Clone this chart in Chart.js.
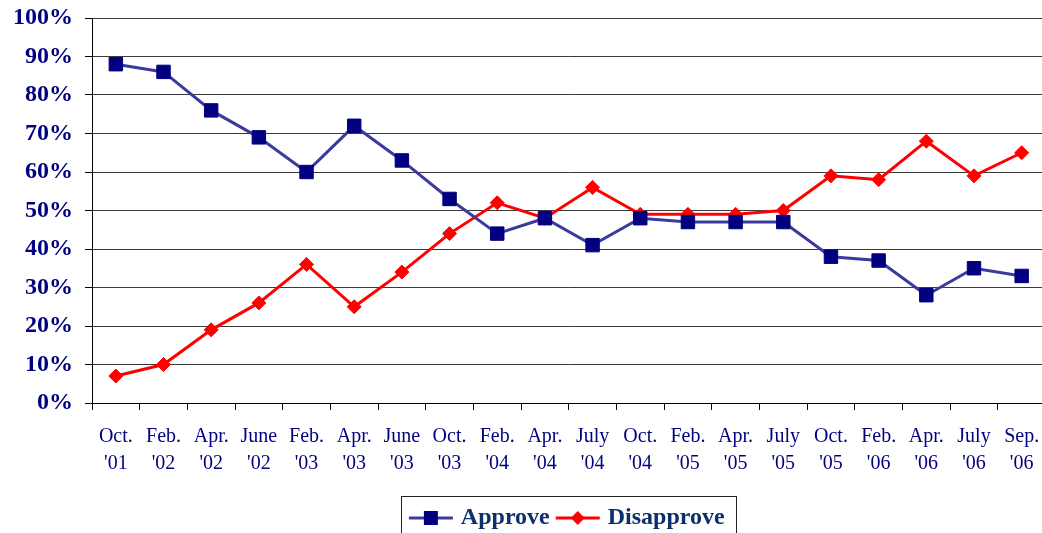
<!DOCTYPE html>
<html>
<head>
<meta charset="utf-8">
<script src="https://cdn.jsdelivr.net/npm/chart.js@4.4.0/dist/chart.umd.min.js"></script>
<style>
  html, body { margin: 0; padding: 0; background: #fff; overflow: hidden; }
  #wrap { width: 1056px; height: 540px; }
</style>
</head>
<body>
<div id="wrap"><canvas id="c" width="1056" height="540"></canvas></div>
<script>
const months = ["Oct.","Feb.","Apr.","June","Feb.","Apr.","June","Oct.","Feb.","Apr.","July","Oct.","Feb.","Apr.","July","Oct.","Feb.","Apr.","July","Sep."];
const years  = ["'01","'02","'02","'02","'03","'03","'03","'03","'04","'04","'04","'04","'05","'05","'05","'05","'06","'06","'06","'06"];
const approve    = [88, 86, 76, 69, 60, 72, 63, 53, 44, 48, 41, 48, 47, 47, 47, 38, 37, 28, 35, 33];
const disapprove = [7, 10, 19, 26, 36, 25, 34, 44, 52, 48, 56, 49, 49, 49, 50, 59, 58, 68, 59, 65];
const yTicks = [0, 10, 20, 30, 40, 50, 60, 70, 80, 90, 100];

const labels = months.map((m, i) => [m, years[i]]);

function legendImage(lineColor, markColor, shape) {
  const cv = document.createElement('canvas');
  cv.width = 46; cv.height = 18;
  const g = cv.getContext('2d');
  g.strokeStyle = lineColor; g.lineWidth = 3;
  g.beginPath(); g.moveTo(1, 9); g.lineTo(45, 9); g.stroke();
  g.fillStyle = markColor;
  if (shape === 'square') { g.fillRect(16, 2, 14, 14); }
  else { g.beginPath(); g.moveTo(23, 2); g.lineTo(30, 9); g.lineTo(23, 16); g.lineTo(16, 9); g.closePath(); g.fill(); }
  return cv;
}
const imgApprove = legendImage('#3b3b9c', '#000080', 'square');
const imgDisapprove = legendImage('#ff0000', '#ff0000', 'diamond');

const legendBorder = {
  id: 'legendBorder',
  afterDraw(chart) {
    const lg = chart.legend;
    if (!lg || !lg.legendHitBoxes || !lg.legendHitBoxes.length) return;
    const hb = lg.legendHitBoxes;
    const x0 = Math.min(...hb.map(b => b.left)) - 12;
    const x1 = Math.max(...hb.map(b => b.left + b.width)) + 11;
    const ctx = chart.ctx;
    ctx.save();
    ctx.strokeStyle = '#222';
    ctx.lineWidth = 1;
    ctx.strokeRect(Math.round(x0) + 0.5, Math.round(lg.top) + 0.5, Math.round(x1 - x0), lg.height + 20);
    ctx.restore();
  }
};

new Chart(document.getElementById('c'), {
  type: 'line',
  data: {
    labels: labels,
    datasets: [
      {
        label: 'Approve', data: approve,
        borderColor: '#3b3b9c', borderWidth: 3,
        pointStyle: 'rect', pointRadius: 9.5, pointBackgroundColor: '#000080', pointBorderColor: '#000080', pointBorderWidth: 1,
        tension: 0
      },
      {
        label: 'Disapprove', data: disapprove,
        borderColor: '#ff0000', borderWidth: 3,
        pointStyle: 'rectRot', pointRadius: 7, pointBackgroundColor: '#ff0000', pointBorderColor: '#ff0000', pointBorderWidth: 1,
        tension: 0
      }
    ]
  },
  options: {
    responsive: false,
    animation: false,
    layout: { padding: { top: 18, right: 2, left: 0, bottom: 0 } },
    plugins: {
      tooltip: { enabled: false },
      legend: {
        position: 'bottom',
        fullSize: false,
        labels: {
          usePointStyle: true,
          pointStyleWidth: 36,
          boxHeight: 18,
          padding: 10,
          color: '#0d2f6b',
          font: { family: 'Liberation Serif', size: 24, weight: 'bold' },
          generateLabels(chart) {
            return [
              { text: 'Approve', pointStyle: imgApprove, fillStyle: '#000080', strokeStyle: '#000080', lineWidth: 0, datasetIndex: 0, fontColor: '#0d2f6b' },
              { text: 'Disapprove', pointStyle: imgDisapprove, fillStyle: '#ff0000', strokeStyle: '#ff0000', lineWidth: 0, datasetIndex: 1, fontColor: '#0d2f6b' }
            ];
          }
        }
      }
    },
    scales: {
      x: {
        offset: true,
        afterFit(scale) { scale.height = 93; scale.paddingLeft = 0; scale.paddingRight = 0; },
        grid: { offset: true, drawOnChartArea: false, tickLength: 7, color: '#000', tickColor: '#000' },
        border: { color: '#000', width: 1 },
        ticks: {
          autoSkip: false, maxRotation: 0, padding: 13,
          color: '#000080',
          font: { family: 'Liberation Serif', size: 20, lineHeight: 1.35 }
        }
      },
      y: {
        min: 0, max: 100,
        afterFit(scale) { scale.width = 92; scale.paddingTop = 0; scale.paddingBottom = 0; },
        afterBuildTicks(scale) { scale.ticks = yTicks.map(v => ({ value: v })); },
        grid: { color: '#3a3a3a', tickLength: 7, tickColor: '#000', lineWidth: 1 },
        border: { color: '#000', width: 1 },
        ticks: {
          padding: 12,
          color: '#000080',
          font: { family: 'Liberation Serif', size: 24, weight: 'bold' },
          callback: v => v + '%'
        }
      }
    }
  },
  plugins: [legendBorder]
});
</script>
</body>
</html>
